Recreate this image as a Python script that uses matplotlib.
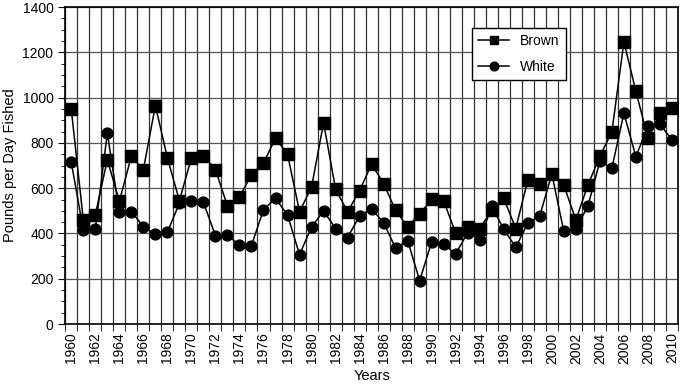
import matplotlib
matplotlib.use("Agg")
import matplotlib.pyplot as plt
import numpy as np
from matplotlib.ticker import MultipleLocator, FixedLocator

plt.rcParams['font.family'] = ['Liberation Sans', 'DejaVu Sans']

years = list(range(1960, 2011))

brown = [948, 460, 483, 726, 542, 741, 682, 965, 734, 545,
         734, 744, 682, 521, 561, 660, 711, 821, 750, 496,
         605, 889, 596, 496, 589, 707, 620, 502, 430, 487,
         551, 543, 402, 428, 422, 502, 555, 422, 636, 618,
         661, 613, 460, 613, 741, 849, 1246, 1027, 822, 931,
         955]

white = [714, 416, 419, 844, 494, 497, 430, 396, 406, 534,
         542, 537, 391, 393, 348, 347, 505, 556, 481, 307,
         428, 500, 422, 382, 478, 509, 447, 335, 369, 192,
         363, 353, 310, 404, 372, 520, 419, 339, 446, 478,
         663, 409, 422, 520, 719, 689, 931, 739, 874, 884,
         812]

fig = plt.figure(figsize=(6.8, 3.9), dpi=100)
ax = fig.add_axes([0.096, 0.169, 0.901, 0.813])

ax.plot(years, brown, color='black', marker='s', markersize=8, linewidth=1.1, label='Brown')
ax.plot(years, white, color='black', marker='o', markersize=7.8, linewidth=1.1, label='White')

ax.set_xlim(1959.5, 2010.5)
ax.set_ylim(0, 1400)

# labels at even years, grid lines between years
ax.xaxis.set_major_locator(FixedLocator(years[::2]))
ax.set_xticklabels([str(y) for y in years[::2]], rotation=90, fontsize=10)
ax.xaxis.set_minor_locator(FixedLocator(np.arange(1959.5, 2011, 1.0)))
ax.tick_params(axis='x', which='major', length=0, pad=6)
ax.tick_params(axis='x', which='minor', length=5, direction='out')
ax.grid(axis='x', which='minor', color='#333333', linewidth=0.9)

ax.yaxis.set_major_locator(MultipleLocator(200))
ax.yaxis.set_minor_locator(MultipleLocator(50))
ax.tick_params(axis='y', which='major', length=5, labelsize=10)
ax.tick_params(axis='y', which='minor', length=3)
ax.grid(axis='y', which='major', color='#555555', linewidth=0.9)
ax.set_axisbelow(True)

for s in ax.spines.values():
    s.set_linewidth(1.2)

ax.set_xlabel('Years', fontsize=10.5, labelpad=4)
ax.set_ylabel('Pounds per Day Fished', fontsize=10.5)

leg = ax.legend(loc='upper left', bbox_to_anchor=(0.664, 0.934), fontsize=10,
                frameon=True, fancybox=False, framealpha=1, edgecolor='black',
                handlelength=2.2, handletextpad=0.8, borderpad=0.45,
                labelspacing=0.85, borderaxespad=0, markerscale=0.8)
leg.get_frame().set_linewidth(1.0)

fig.savefig('out.png', dpi=100)
